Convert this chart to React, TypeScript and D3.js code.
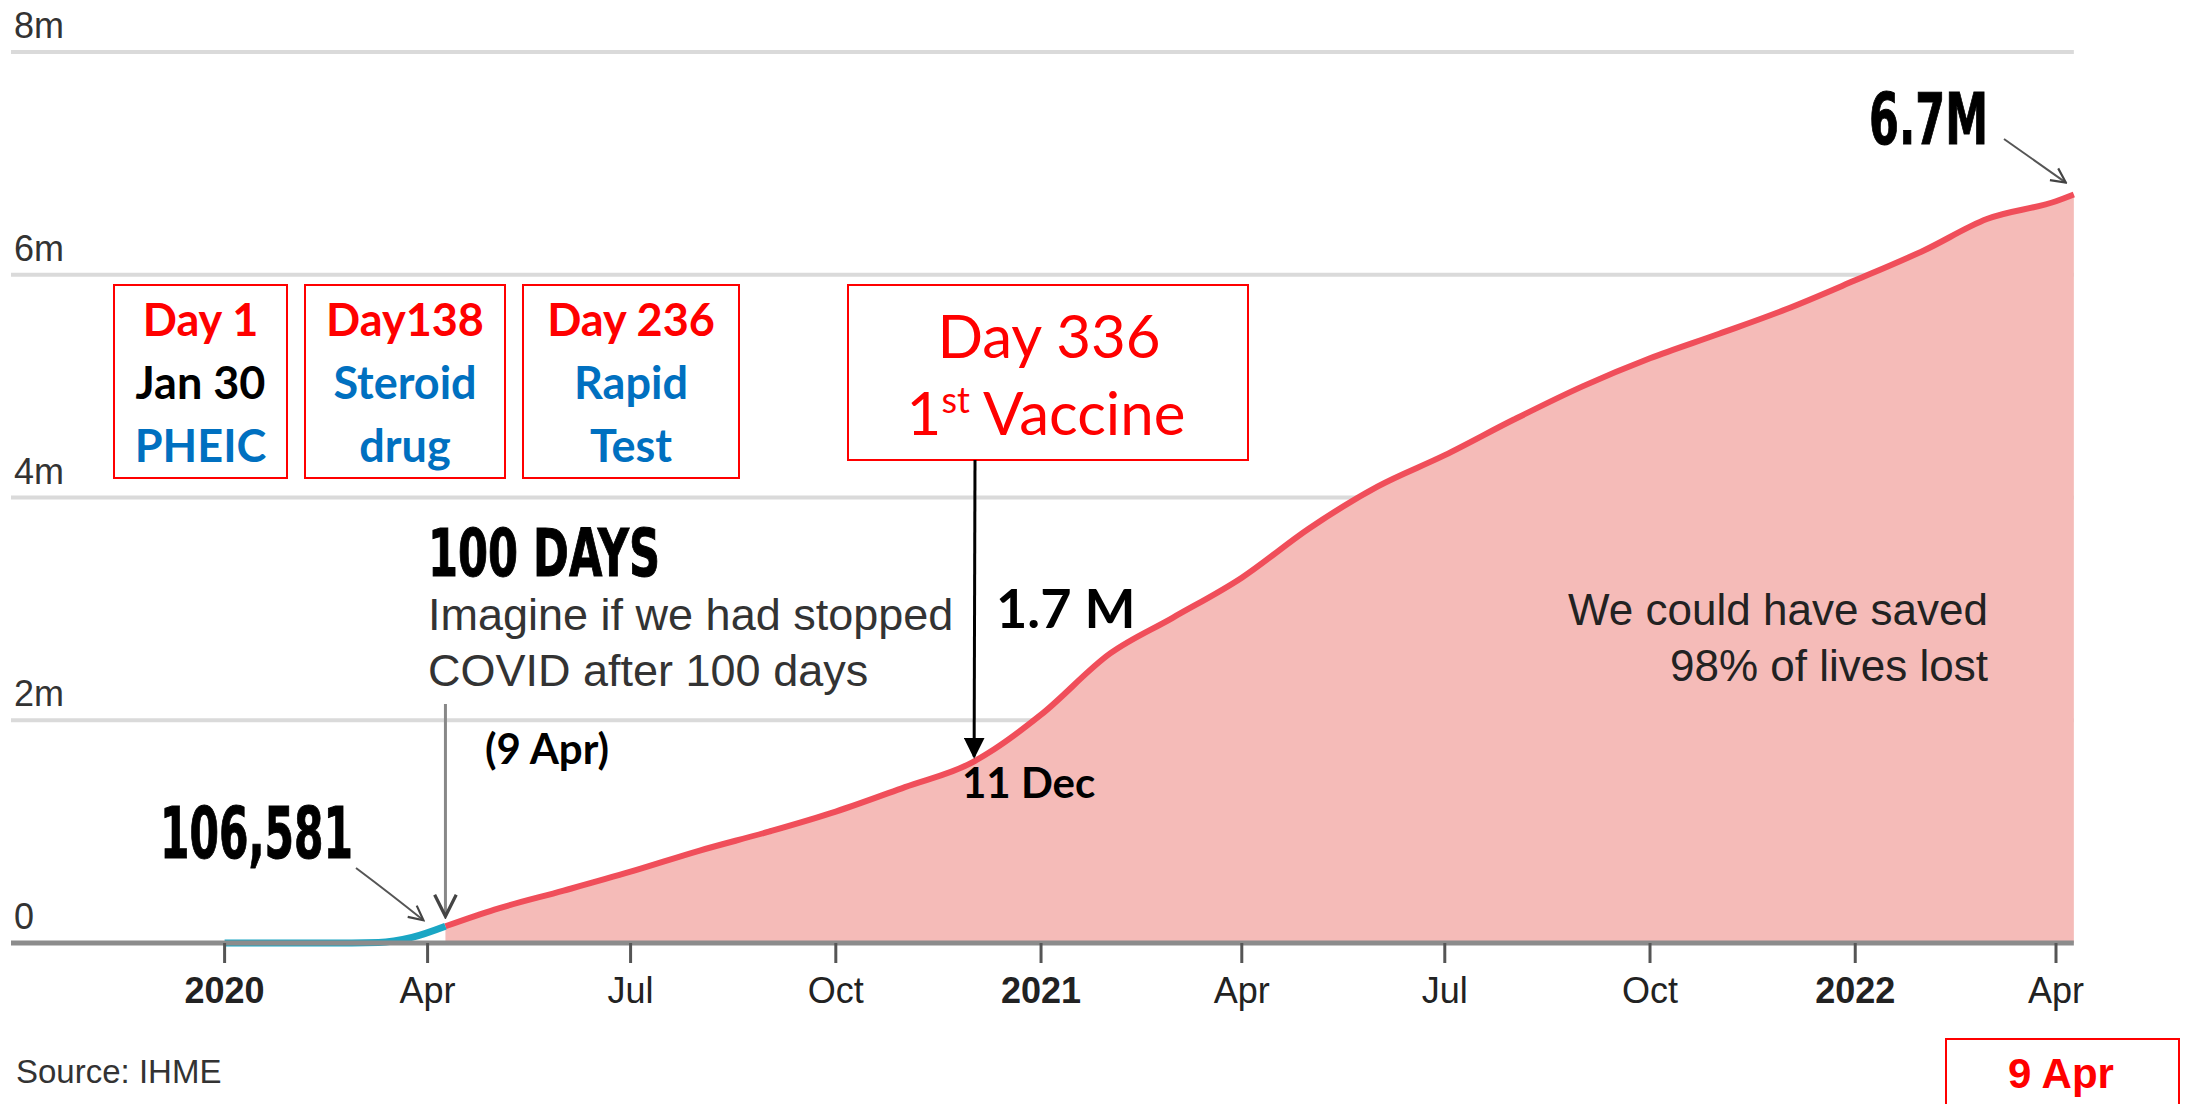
import React from "react";
import * as d3 from "d3";

// deaths in millions
const blueDates = ["2020-01-01", "2020-02-15", "2020-03-10", "2020-03-25", "2020-04-09"];
const blueValues = [0, 0, 0.005, 0.05, 0.15];

const redDates = [
  "2020-04-09", "2020-05-01", "2020-06-01", "2020-07-01", "2020-08-01", "2020-09-01",
  "2020-10-01", "2020-11-01", "2020-12-01", "2020-12-11", "2021-01-01", "2021-02-01",
  "2021-03-01", "2021-04-01", "2021-05-01", "2021-06-01", "2021-07-01", "2021-08-01",
  "2021-09-01", "2021-10-01", "2021-11-01", "2021-12-01", "2022-01-01", "2022-02-01",
  "2022-03-01", "2022-04-01", "2022-04-09",
];
const redValues = [
  0.15, 0.3, 0.47, 0.64, 0.83, 1.0,
  1.18, 1.4, 1.62, 1.74, 2.05, 2.6,
  2.92, 3.28, 3.72, 4.1, 4.38, 4.7,
  5.0, 5.25, 5.47, 5.69, 5.95, 6.22,
  6.5, 6.66, 6.72,
];

const tickDates = [
  "2020-01-01", "2020-04-01", "2020-07-01", "2020-10-01", "2021-01-01",
  "2021-04-01", "2021-07-01", "2021-10-01", "2022-01-01", "2022-04-01",
];
const tickLabels = ["2020", "Apr", "Jul", "Oct", "2021", "Apr", "Jul", "Oct", "2022", "Apr"];
const yTicks = [0, 2, 4, 6, 8];
const yTickLabels = ["0", "2m", "4m", "6m", "8m"];

const W = 2187;
const H = 1104;
const parse = d3.timeParse("%Y-%m-%d");

const calibri = "Lato, 'Open Sans', sans-serif";
const arial = "'Liberation Sans', Arial, sans-serif";
const heavy = "'DejaVu Sans Condensed', 'DejaVu Sans', sans-serif";

export default function App() {
  const x = d3.scaleTime()
    .domain([parse("2020-01-01")!, parse("2022-04-01")!])
    .range([224.6, 2056]);
  const y = d3.scaleLinear().domain([0, 8]).range([943, 52]);

  const blue = blueDates.map((d, i) => ({ date: parse(d)!, v: blueValues[i] }));
  const red = redDates.map((d, i) => ({ date: parse(d)!, v: redValues[i] }));

  const line = d3.line<{ date: Date; v: number }>()
    .x(d => x(d.date))
    .y(d => y(d.v))
    .curve(d3.curveMonotoneX);
  const area = d3.area<{ date: Date; v: number }>()
    .x(d => x(d.date))
    .y0(y(0))
    .y1(d => y(d.v))
    .curve(d3.curveMonotoneX);

  const gridX0 = 11;
  const gridX1 = x(parse("2022-04-09")!);

  const boxes = [
    { x: 114, w: 173, lines: [["Day 1", "#ff0000"], ["Jan 30", "#000"], ["PHEIC", "#0070c0"]] },
    { x: 305, w: 200, lines: [["Day138", "#ff0000"], ["Steroid", "#0070c0"], ["drug", "#0070c0"]] },
    { x: 523, w: 216, lines: [["Day 236", "#ff0000"], ["Rapid", "#0070c0"], ["Test", "#0070c0"]] },
  ];

  const vacX = x(parse("2020-12-02")!);
  const aprX = x(parse("2020-04-09")!);
  const endX = gridX1;
  const endY = y(6.72);

  return (
    <svg width={W} height={H} style={{ position: "absolute", left: 0, top: 0, background: "#fff" }}>
      <defs>
        <marker id="blk" viewBox="0 0 10 10" refX="9" refY="5" markerWidth="7" markerHeight="7" orient="auto">
          <path d="M0,0 L10,5 L0,10 z" fill="#000" />
        </marker>
        <marker id="chev" viewBox="0 0 10 10" refX="9" refY="5" markerWidth="9" markerHeight="9" orient="auto">
          <path d="M1,1 L9,5 L1,9" fill="none" stroke="#444" strokeWidth="1.2" />
        </marker>
      </defs>

      {/* grid */}
      {yTicks.map((t, i) => (
        <g key={t}>
          {t > 0 && (
            <line x1={gridX0} x2={gridX1} y1={y(t)} y2={y(t)} stroke="#dadada" strokeWidth={4} />
          )}
          <text x={14} y={y(t) - 14} fontFamily={arial} fontSize={36} fill="#333">
            {yTickLabels[i]}
          </text>
        </g>
      ))}

      {/* area + lines */}
      <path d={area(red)!} fill="#f5bbb8" />
      <path d={line(red)!} fill="none" stroke="#f04e5a" strokeWidth={6} />
      <path d={line(blue)!} fill="none" stroke="#1aa6c4" strokeWidth={7} />

      {/* baseline + ticks */}
      <line x1={gridX0} x2={gridX1} y1={y(0)} y2={y(0)} stroke="#8c8c8c" strokeWidth={5} />
      {tickDates.map((d, i) => {
        const tx = x(parse(d)!);
        const bold = /^\d/.test(tickLabels[i]);
        return (
          <g key={d}>
            <line x1={tx} x2={tx} y1={y(0)} y2={y(0) + 20} stroke="#555" strokeWidth={3} />
            <text x={tx} y={1003} textAnchor="middle" fontFamily={arial} fontSize={36}
              fontWeight={bold ? "bold" : "normal"} fill="#222">
              {tickLabels[i]}
            </text>
          </g>
        );
      })}

      {/* event boxes */}
      {boxes.map(b => (
        <g key={b.x}>
          <rect x={b.x} y={285} width={b.w} height={193} fill="#fff" stroke="#ff0000" strokeWidth={2} />
          {b.lines.map(([t, c], i) => (
            <text key={i} x={b.x + b.w / 2} y={336 + i * 63} textAnchor="middle"
              fontFamily={calibri} fontWeight="bold" fontSize={45} fill={c}>
              {t}
            </text>
          ))}
        </g>
      ))}

      <rect x={848} y={285} width={400} height={175} fill="#fff" stroke="#ff0000" strokeWidth={2} />
      <text x={1049} y={358} textAnchor="middle" fontFamily={calibri} fontSize={60} fill="#ff0000">
        Day 336
      </text>
      <text x={1046} y={435} textAnchor="middle" fontFamily={calibri} fontSize={60} fill="#ff0000">
        1<tspan fontSize={36} dy={-22}>st</tspan><tspan dy={22}> Vaccine</tspan>
      </text>
      <line x1={975} y1={460} x2={vacX} y2={y(1.62) - 6} stroke="#000" strokeWidth={3} markerEnd="url(#blk)" />
      <text x={996} y={628} fontFamily={calibri} fontWeight="bold" fontSize={54} fill="#000">1.7 M</text>
      <text x={962} y={798} fontFamily={calibri} fontWeight="bold" fontSize={42} fill="#000">11 Dec</text>

      {/* 100 days annotation */}
      <text x={428} y={576} fontFamily={heavy} fontWeight="bold" fontSize={66} fill="#000"
        stroke="#000" strokeWidth={1}
        textLength={232} lengthAdjust="spacingAndGlyphs">100 DAYS</text>
      <text x={428} y={630} fontFamily={arial} fontSize={45} fill="#333">Imagine if we had stopped</text>
      <text x={428} y={686} fontFamily={arial} fontSize={45} fill="#333">COVID after 100 days</text>
      <text x={485} y={764} fontFamily={calibri} fontWeight="bold" fontSize={42} fill="#000">(9 Apr)</text>
      <line x1={aprX} y1={704} x2={aprX} y2={y(0.15) - 10} stroke="#888" strokeWidth={3} markerEnd="url(#chev)" />

      <text x={160} y={858} fontFamily={heavy} fontWeight="bold" fontSize={72} fill="#000"
        stroke="#000" strokeWidth={1}
        textLength={193} lengthAdjust="spacingAndGlyphs">106,581</text>
      <path d={`M356,868 Q392,895 ${aprX - 22},${y(0.15) - 6}`} fill="none" stroke="#555" strokeWidth={2}
        markerEnd="url(#chev)" />

      <text x={1869} y={144} fontFamily={heavy} fontWeight="bold" fontSize={72} fill="#000"
        stroke="#000" strokeWidth={1}
        textLength={119} lengthAdjust="spacingAndGlyphs">6.7M</text>
      <line x1={2004} y1={139} x2={endX - 8} y2={endY - 12} stroke="#555" strokeWidth={2} markerEnd="url(#chev)" />

      <text x={1988} y={625} textAnchor="end" fontFamily={arial} fontSize={44} fill="#222">We could have saved</text>
      <text x={1988} y={681} textAnchor="end" fontFamily={arial} fontSize={44} fill="#222">98% of lives lost</text>

      <text x={16} y={1083} fontFamily={arial} fontSize={33} fill="#333">Source: IHME</text>

      <rect x={1946} y={1039} width={233} height={80} fill="#fff" stroke="#ff0000" strokeWidth={2} />
      <text x={2061} y={1088} textAnchor="middle" fontFamily={arial} fontWeight="bold" fontSize={42} fill="#ff0000">
        9 Apr
      </text>
    </svg>
  );
}
